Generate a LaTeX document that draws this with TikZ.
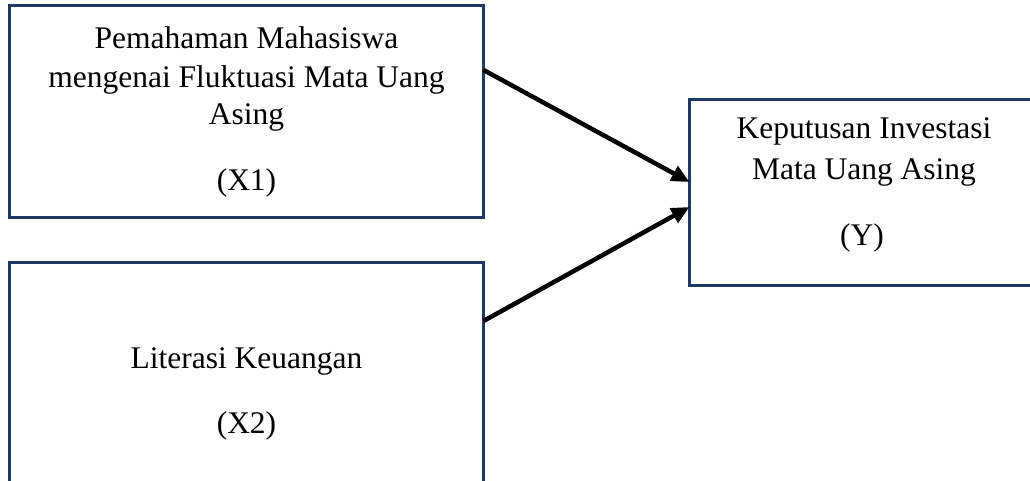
\documentclass[tikz,border=0pt]{standalone}
\usepackage{fontspec}
\setmainfont{Liberation Serif}
\usetikzlibrary{arrows.meta}
\definecolor{navy}{HTML}{1F3864}
\begin{document}
\begin{tikzpicture}[x=1pt,y=-1pt,
  boxnode/.style={draw=navy,line width=3pt,rectangle,inner sep=0pt,outer sep=0pt},
  txt/.style={font=\fontsize{31.5pt}{36pt}\selectfont,anchor=base,inner sep=0pt},
  arr/.style={line width=4.5pt,-{Triangle[length=18pt,width=16pt]}}]
\useasboundingbox (0,0) rectangle (1030,481);
\clip (0,0) rectangle (1030,481);
\fill[white] (0,0) rectangle (1030,481);
% boxes
\node[boxnode,minimum width=474pt,minimum height=211.5pt] (x1) at (246.5,111.75) {};
\node[boxnode,minimum width=474pt,minimum height=240pt] (x2) at (246.5,382) {};
\node[boxnode,minimum width=360pt,minimum height=185.5pt] (y) at (869.5,192.25) {};
% texts
\node[txt] (x1a) at (246.5,49) {Pemahaman Mahasiswa};
\node[txt] (x1b) at (246.5,88) {mengenai Fluktuasi Mata Uang};
\node[txt] (x1c) at (246.5,125) {Asing};
\node[txt] (x1d) at (246.5,190) {(X1)};
\node[txt] (x2a) at (246.5,368) {Literasi Keuangan};
\node[txt] (x2b) at (246.5,433) {(X2)};
\node[txt] (ya) at (864,139) {Keputusan Investasi};
\node[txt] (yb) at (864,179) {Mata Uang Asing};
\node[txt] (yc) at (862,245) {(Y)};
% arrows
\draw[arr] (x1.east |- 0,70) -- (y.west |- 0,182);
\draw[arr] (x2.east |- 0,321) -- (y.west |- 0,207);
\end{tikzpicture}
\end{document}
